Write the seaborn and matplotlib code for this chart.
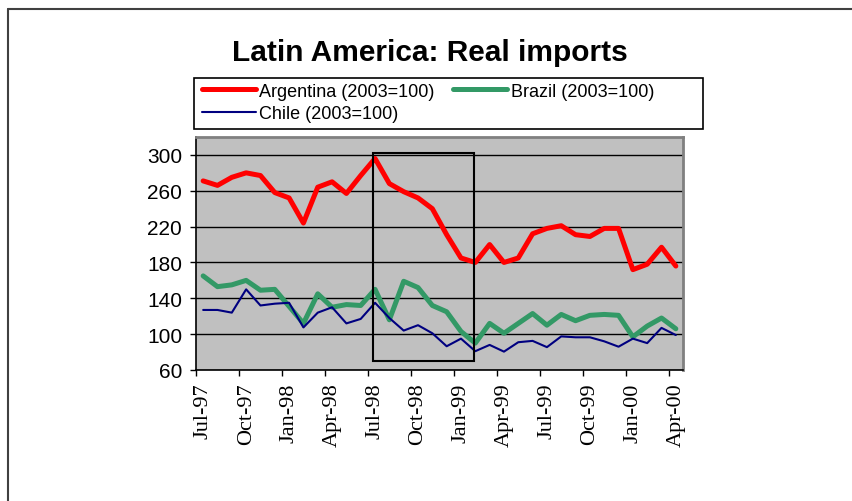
import numpy as np
import pandas as pd
import seaborn as sns
import matplotlib.pyplot as plt
from matplotlib.patches import Rectangle
from matplotlib.lines import Line2D

# monthly, Jul-97 .. Apr-00 (34 months)
argentina = [271, 266, 275, 280, 277, 258, 252, 224, 264, 270, 257, 277, 296, 268, 259, 252, 240,
             211, 185, 180, 200, 180, 185, 212, 218, 221, 211, 209, 218, 218, 172, 178, 197, 176]
brazil = [165, 153, 155, 160, 149, 150, 131, 112, 145, 130, 133, 132, 150, 116, 159, 152, 132,
          125, 103, 90, 112, 101, 112, 123, 110, 122, 115, 121, 122, 121, 97, 109, 118, 106]
chile = [127, 127, 124, 150, 132, 134, 135, 107.5, 124, 130, 112, 117, 135, 118, 104, 110, 101,
         86.5, 95, 81, 88, 80.5, 91, 92.5, 85.5, 97.5, 96.5, 96.5, 92, 86, 95, 90, 107, 99]
tick_labels = ['Jul-97', 'Oct-97', 'Jan-98', 'Apr-98', 'Jul-98', 'Oct-98',
               'Jan-99', 'Apr-99', 'Jul-99', 'Oct-99', 'Jan-00', 'Apr-00']
series_names = ['Argentina (2003=100)', 'Brazil (2003=100)', 'Chile (2003=100)']

df = pd.DataFrame({'month': np.arange(len(argentina)),
                   series_names[0]: argentina,
                   series_names[1]: brazil,
                   series_names[2]: chile})
long = df.melt(id_vars='month', var_name='series', value_name='value')

colors = {series_names[0]: '#FF0000', series_names[1]: '#339966', series_names[2]: '#000080'}
widths = {series_names[0]: 3.6, series_names[1]: 3.6, series_names[2]: 1.5}

sns.set_style('white')
plt.rcParams['font.family'] = ['Liberation Sans', 'DejaVu Sans']
plt.rcParams['text.color'] = 'black'
plt.rcParams['xtick.color'] = 'black'
plt.rcParams['ytick.color'] = 'black'
plt.rcParams['axes.labelcolor'] = 'black'

fig = plt.figure(figsize=(8.53, 5.02), dpi=100)
ax = fig.add_axes([196 / 853, 1 - 371 / 502, (683 - 196) / 853, (371 - 138) / 502])
ax.set_facecolor('#C0C0C0')

for name in series_names:
    sns.lineplot(data=long[long['series'] == name], x='month', y='value', ax=ax,
                 color=colors[name], linewidth=widths[name], label=name, legend=False)

ax.set_xlim(-0.5, len(argentina) - 0.5)
ax.set_ylim(60, 320)
ax.set_yticks(np.arange(60, 301, 40))
ax.tick_params(axis='y', labelsize=15, length=4, width=1, direction='out', left=True, pad=6,
               colors='black')
ax.grid(axis='y', color='black', linewidth=1)
ax.set_axisbelow(True)

# tick marks between categories, labels centred on categories
ax.set_xticks(np.arange(-0.5, len(argentina), 3))
ax.set_xticklabels([])
ax.set_xticks(np.arange(0, len(argentina), 3), minor=True)
ax.set_xticklabels(tick_labels, minor=True, rotation=90, fontsize=16,
                   family=['Liberation Serif', 'DejaVu Serif'], color='black')
ax.tick_params(axis='x', which='major', length=4, width=1, direction='out', bottom=True,
               colors='black')
ax.tick_params(axis='x', which='minor', length=0, pad=9)
ax.set_xlabel('')
ax.set_ylabel('')

for side in ['top', 'right']:
    ax.spines[side].set_color('#808080')
    ax.spines[side].set_linewidth(2)
for side in ['left', 'bottom']:
    ax.spines[side].set_color('black')
    ax.spines[side].set_linewidth(1.2)

# highlight box
ax.add_patch(Rectangle((11.85, 70.5), 7.05, 231.5, fill=False, edgecolor='black',
                       linewidth=1.5, clip_on=False, zorder=5))

fig.text(430 / 853, 1 - 53 / 502, 'Latin America: Real imports', ha='center', va='center',
         fontsize=21.5, fontweight='bold', color='black')

# legend
handles = {l.get_label(): l for l in ax.get_lines() if l.get_label() in series_names}
order = [series_names[0], series_names[2], series_names[1]]
leg = fig.legend([handles[n] for n in order], order, ncol=2, frameon=False, fontsize=13,
                 loc='upper left', bbox_to_anchor=(198 / 853, 1 - 80 / 502),
                 handlelength=3.0, handletextpad=0.2, columnspacing=1.0,
                 labelspacing=0.3, borderpad=0.2, borderaxespad=0)
for t in leg.get_texts():
    t.set_color('black')
fig.patches.append(Rectangle((194 / 853, 1 - 130 / 502), (703 - 194) / 853, 51 / 502,
                             transform=fig.transFigure, fill=False, edgecolor='black',
                             linewidth=1.2))

# outer frame (top and left edges)
fig.add_artist(Line2D([8 / 853, 1], [1 - 10 / 502, 1 - 10 / 502], transform=fig.transFigure,
                      color='#404040', linewidth=1.5))
fig.add_artist(Line2D([8 / 853, 8 / 853], [0, 1 - 10 / 502], transform=fig.transFigure,
                      color='#404040', linewidth=1.5))

fig.savefig('out.png', dpi=100)
